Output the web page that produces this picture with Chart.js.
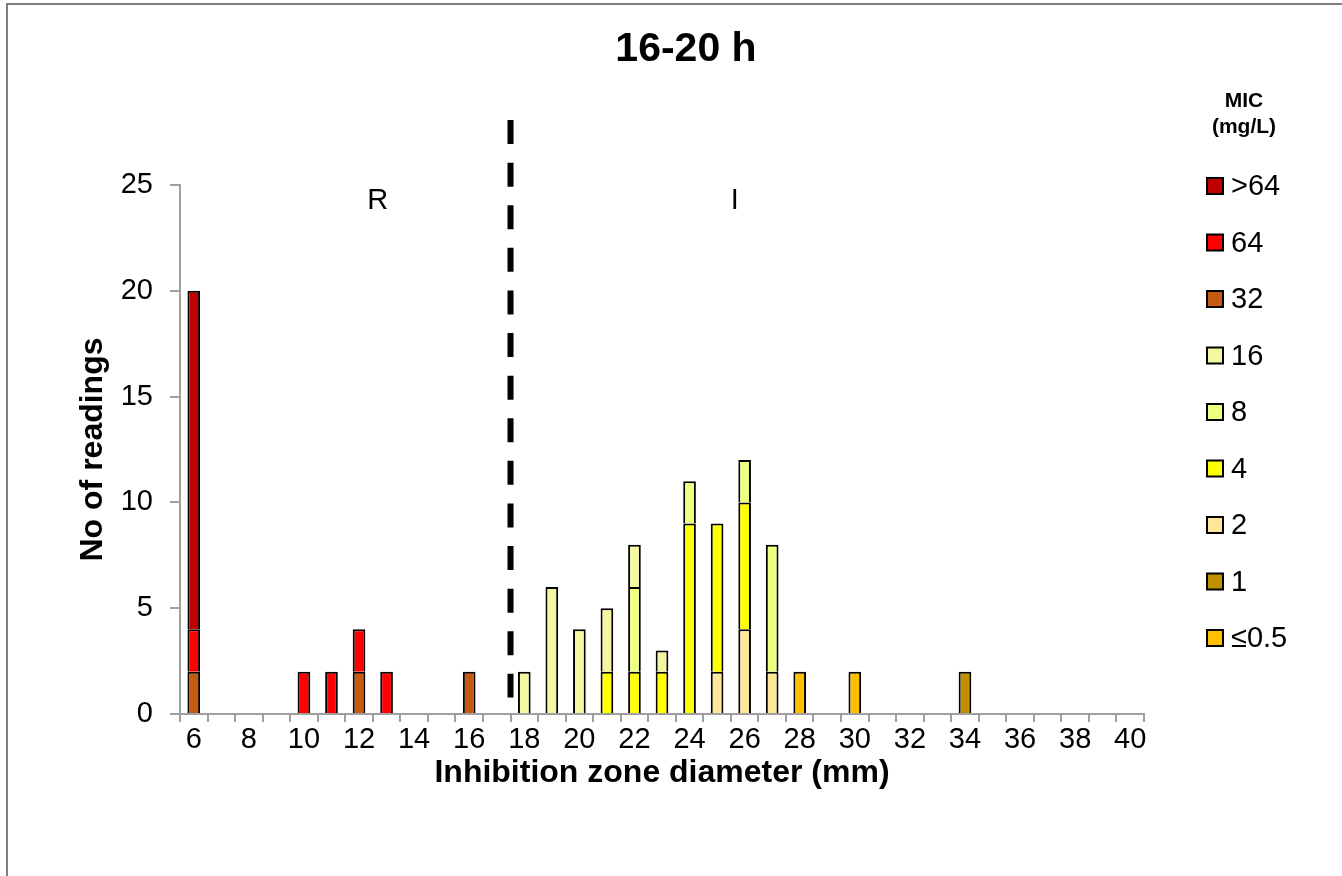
<!DOCTYPE html>
<html>
<head>
<meta charset="utf-8">
<script src="https://cdn.jsdelivr.net/npm/chart.js@4.4.1/dist/chart.umd.min.js"></script>
<style>
  html, body { margin: 0; padding: 0; background: #fff; }
  canvas { display: block; }
</style>
</head>
<body>
<canvas id="c" width="1342" height="876"></canvas>
<script>
// ---- Data ----
const diameters = ['6','7','8','9','10','11','12','13','14','15','16','17','18','19','20','21','22','23','24','25','26','27','28','29','30','31','32','33','34','35','36','37','38','39','40'];
//                  6 7 8 9 10 11 12 13 14 15 16 17 18 19 20 21 22 23 24 25 26 27 28 29 30 31 32 33 34 35 36 37 38 39 40
const micLe05   = [ 0,0,0,0, 0, 0, 0, 0, 0, 0, 0, 0, 0, 0, 0, 0, 0, 0, 0, 0, 0, 0, 2, 0, 2, 0, 0, 0, 0, 0, 0, 0, 0, 0, 0];
const mic1      = [ 0,0,0,0, 0, 0, 0, 0, 0, 0, 0, 0, 0, 0, 0, 0, 0, 0, 0, 0, 0, 0, 0, 0, 0, 0, 0, 0, 2, 0, 0, 0, 0, 0, 0];
const mic2      = [ 0,0,0,0, 0, 0, 0, 0, 0, 0, 0, 0, 0, 0, 0, 0, 0, 0, 0, 2, 4, 2, 0, 0, 0, 0, 0, 0, 0, 0, 0, 0, 0, 0, 0];
const mic4      = [ 0,0,0,0, 0, 0, 0, 0, 0, 0, 0, 0, 0, 0, 0, 2, 2, 2, 9, 7, 6, 0, 0, 0, 0, 0, 0, 0, 0, 0, 0, 0, 0, 0, 0];
const mic8      = [ 0,0,0,0, 0, 0, 0, 0, 0, 0, 0, 0, 0, 0, 0, 0, 4, 0, 2, 0, 2, 6, 0, 0, 0, 0, 0, 0, 0, 0, 0, 0, 0, 0, 0];
const mic16     = [ 0,0,0,0, 0, 0, 0, 0, 0, 0, 0, 0, 2, 6, 4, 3, 2, 1, 0, 0, 0, 0, 0, 0, 0, 0, 0, 0, 0, 0, 0, 0, 0, 0, 0];
const mic32     = [ 2,0,0,0, 0, 0, 2, 0, 0, 0, 2, 0, 0, 0, 0, 0, 0, 0, 0, 0, 0, 0, 0, 0, 0, 0, 0, 0, 0, 0, 0, 0, 0, 0, 0];
const mic64     = [ 2,0,0,0, 2, 2, 2, 2, 0, 0, 0, 0, 0, 0, 0, 0, 0, 0, 0, 0, 0, 0, 0, 0, 0, 0, 0, 0, 0, 0, 0, 0, 0, 0, 0];
const micGt64   = [16,0,0,0, 0, 0, 0, 0, 0, 0, 0, 0, 0, 0, 0, 0, 0, 0, 0, 0, 0, 0, 0, 0, 0, 0, 0, 0, 0, 0, 0, 0, 0, 0, 0];

const seriesNames = ['≤0.5','1','2','4','8','16','32','64','>64'];
const yTicks = [0, 5, 10, 15, 20, 25];

// breakpoint between 17 and 18 mm (category index 11.5); zone labels
const breakpointIndex = 11.5;
const zoneLabels = [ { text: 'R', index: 6.68, value: 24.25 }, { text: 'I', index: 19.64, value: 24.25 } ];

// ---- Styles ----
const FONT = "'Liberation Sans', Arial, sans-serif";
const colors = ['#FFC000','#BF9000','#FFE699','#FFFF00','#EFFF80','#F4F7A0','#C55A11','#FF0000','#C00000'];
const seriesValues = [micLe05, mic1, mic2, mic4, mic8, mic16, mic32, mic64, micGt64];

const datasets = seriesValues.map((vals, i) => ({
  label: seriesNames[i],
  data: vals,
  backgroundColor: colors[i],
  borderColor: '#000000',
  borderWidth: 2,
  borderSkipped: 'start',
  barPercentage: 0.46,
  categoryPercentage: 1.0
}));

const decorPlugin = {
  id: 'decor',
  beforeDraw(chart) {
    const ctx = chart.ctx;
    ctx.save();
    ctx.fillStyle = '#fff';
    ctx.fillRect(0, 0, chart.width, chart.height);
    ctx.strokeStyle = '#808080';
    ctx.lineWidth = 2;
    ctx.strokeRect(7, 4, 1400, 1000);
    ctx.restore();
  },
  afterDraw(chart) {
    const ctx = chart.ctx;
    const xs = chart.scales.x, ys = chart.scales.y;
    const ca = chart.chartArea;
    ctx.save();
    // dashed breakpoint line
    const bx = xs.getPixelForValue(breakpointIndex);
    ctx.strokeStyle = '#000';
    ctx.lineWidth = 6;
    ctx.setLineDash([24, 18.6]);
    ctx.beginPath();
    ctx.moveTo(bx, ys.getPixelForValue(28.07));
    ctx.lineTo(bx, ys.getPixelForValue(0.78));
    ctx.stroke();
    ctx.setLineDash([]);

    // zone labels
    ctx.fillStyle = '#000';
    ctx.font = '29px ' + FONT;
    ctx.textAlign = 'center';
    ctx.textBaseline = 'middle';
    zoneLabels.forEach(z => ctx.fillText(z.text, xs.getPixelForValue(z.index), ys.getPixelForValue(z.value)));

    // chart title
    ctx.font = 'bold 41px ' + FONT;
    ctx.fillText('16-20 h', 686, 50);

    // axis titles
    ctx.font = 'bold 32px ' + FONT;
    ctx.fillText('Inhibition zone diameter (mm)', (ca.left + ca.right) / 2, 773);
    ctx.save();
    ctx.translate(93, (ca.top + ca.bottom) / 2);
    ctx.rotate(-Math.PI / 2);
    ctx.fillText('No of readings', 0, 0);
    ctx.restore();

    // legend
    ctx.font = 'bold 21px ' + FONT;
    ctx.fillText('MIC', 1244, 101);
    ctx.fillText('(mg/L)', 1244, 127);
    ctx.font = '29px ' + FONT;
    ctx.textAlign = 'left';
    const n = chart.data.datasets.length;
    for (let k = 0; k < n; k++) {
      const ds = chart.data.datasets[n - 1 - k];
      const cy = 186 + k * 56.5;
      ctx.fillStyle = ds.backgroundColor;
      ctx.fillRect(1207, cy - 8, 16, 16);
      ctx.strokeStyle = '#000';
      ctx.lineWidth = 2;
      ctx.strokeRect(1207, cy - 8, 16, 16);
      ctx.fillStyle = '#000';
      ctx.fillText(ds.label, 1231, cy + 1);
    }
    ctx.restore();
  }
};

new Chart(document.getElementById('c'), {
  type: 'bar',
  data: { labels: diameters, datasets },
  options: {
    responsive: false,
    animation: false,
    devicePixelRatio: 1,
    layout: { padding: { top: 185, right: 198, left: 0, bottom: 0 } },
    plugins: { legend: { display: false }, title: { display: false }, tooltip: { enabled: false } },
    scales: {
      x: {
        stacked: true,
        offset: true,
        afterFit(scale) { scale.height = 162; },
        grid: { display: true, drawOnChartArea: false, drawTicks: true, tickLength: 8, color: '#A0A0A0', lineWidth: 2, offset: true },
        border: { display: true, color: '#A0A0A0', width: 2 },
        ticks: {
          autoSkip: false,
          maxRotation: 0,
          padding: 1,
          color: '#000',
          font: { family: FONT, size: 29 },
          callback(v, i) { return i % 2 === 0 ? diameters[i] : ''; }
        }
      },
      y: {
        stacked: true,
        min: 0,
        max: 25,
        afterFit(scale) { scale.width = 180; },
        afterBuildTicks(scale) { scale.ticks = yTicks.map(v => ({ value: v })); },
        grid: { display: true, drawOnChartArea: false, drawTicks: true, tickLength: 10, color: '#A0A0A0', lineWidth: 2 },
        border: { display: true, color: '#A0A0A0', width: 2 },
        ticks: { padding: 17, color: '#000', font: { family: FONT, size: 29 } }
      }
    }
  },
  plugins: [decorPlugin]
});
</script>
</body>
</html>
